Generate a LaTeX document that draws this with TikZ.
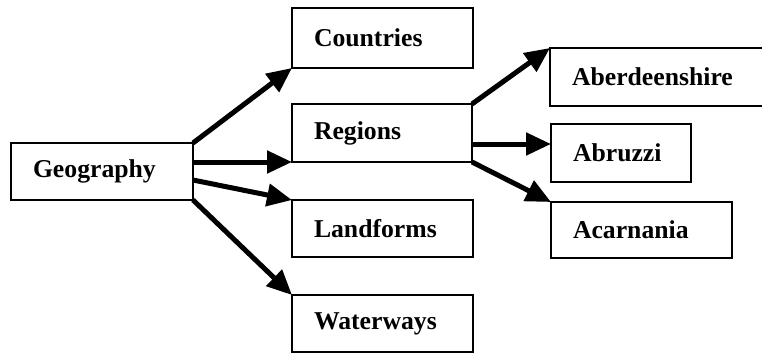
\documentclass[tikz,border=0pt]{standalone}
\usepackage{fontspec}
\setmainfont{Liberation Serif}
\usetikzlibrary{arrows.meta}
\tikzset{
  box/.style={draw, line width=2.5pt, rectangle, anchor=north west, inner xsep=22pt, inner ysep=0pt, outer sep=0pt, align=left, font=\bfseries\fontsize{25.7}{30}\selectfont},
  conn/.style={line width=5pt, -{Triangle[length=25pt,width=22pt]}}
}
\begin{document}
\begin{tikzpicture}[x=1pt,y=-1pt]
\useasboundingbox (0,0) rectangle (762,353);
\clip (0,0) rectangle (762,353);
\node[box, minimum width=182pt, minimum height=57pt, text width=138pt] (geo) at (11,143) {Geography};
\node[box, minimum width=181pt, minimum height=60pt, text width=137pt] (cou) at (292,8) {Countries};
\node[box, minimum width=180pt, minimum height=58pt, text width=136pt] (reg) at (292,104) {Regions};
\node[box, minimum width=181pt, minimum height=57pt, text width=137pt] (lan) at (292,200) {Landforms};
\node[box, minimum width=181pt, minimum height=57pt, text width=137pt] (wat) at (292,295) {Waterways};
\node[box, minimum width=240pt, minimum height=58pt, text width=196pt] (abe) at (550,48) {Aberdeenshire};
\node[box, minimum width=140pt, minimum height=58pt, text width=96pt] (abr) at (551,124) {Abruzzi};
\node[box, minimum width=181pt, minimum height=56pt, text width=137pt] (aca) at (551,202) {Acarnania};
\coordinate (geolan) at ([yshift=-8.5pt]geo.east);
\coordinate (abrin) at ([yshift=9pt]abr.west);
\draw[conn] (geo.north east) -- (cou.south west);
\draw[conn] (geo.east |- reg.south) -- (reg.south west);
\draw[conn] (geolan) -- (lan.north west);
\draw[conn] (geo.south east) -- (wat.north west);
\draw[conn] (reg.north east) -- (abe.north west);
\draw[conn] (reg.east |- abrin) -- (abrin);
\draw[conn] (reg.south east) -- (aca.north west);
\end{tikzpicture}
\end{document}
